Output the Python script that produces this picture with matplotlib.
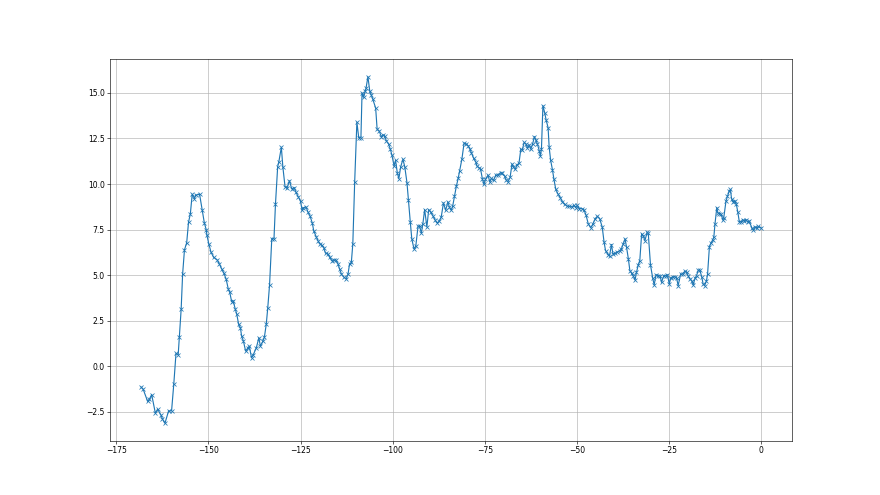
import matplotlib
matplotlib.use("Agg")
import matplotlib.pyplot as plt
import numpy as np

# values, in plot order
x = [-168.3, -167.7, -166.5, -166.0, -165.4, -164.4, -163.8, -162.9, -162.5, -161.8,
     -160.8, -160.0, -159.4, -158.8, -158.2, -157.9, -157.4, -157.0, -156.5, -155.9,
     -155.4, -154.9, -154.4, -153.8, -153.5, -152.4, -151.7, -151.1, -150.6, -150.4,
     -149.9, -149.3, -148.6, -147.6, -147.0, -146.4, -145.8, -145.2, -144.6, -144.2,
     -143.7, -143.3, -142.7, -142.3, -141.8, -141.3, -141.0, -140.5, -139.9, -139.3,
     -138.9, -138.3, -137.8, -137.0, -136.3, -135.9, -135.2, -134.8, -134.3, -133.9,
     -133.4, -132.8, -132.2, -131.8, -131.2, -130.9, -130.2, -129.8, -129.2, -128.6,
     -128.0, -127.4, -126.7, -126.3, -125.6, -125.0, -124.6, -124.2, -123.5, -123.0,
     -122.4, -121.8, -121.4, -120.7, -120.3, -119.8, -119.2, -118.7, -118.2, -117.6,
     -117.1, -116.5, -116.0, -115.4, -114.8, -114.4, -113.9, -113.2, -112.6, -112.1,
     -111.7, -111.2, -110.8, -110.3, -109.7, -109.2, -108.6, -108.3, -107.9, -107.4,
     -107.2, -106.7, -106.2, -105.8, -105.4, -104.6, -104.2, -103.6, -103.1, -102.6,
     -102.2, -101.7, -101.1, -100.6, -100.2, -99.6, -99.2, -98.7, -98.3, -97.8,
     -97.2, -96.7, -96.1, -95.7, -95.2, -94.8, -94.2, -93.7, -93.1, -92.7,
     -92.2, -91.8, -91.3, -90.7, -90.2, -89.7, -89.0, -88.4, -87.9, -87.3,
     -86.8, -86.2, -85.6, -85.0, -84.6, -84.1, -83.7, -83.2, -82.7, -82.2,
     -81.8, -81.2, -80.6, -80.0, -79.5, -79.1, -78.6, -78.0, -77.4, -77.1,
     -76.6, -76.1, -75.6, -75.2, -74.8, -74.1, -73.6, -73.2, -72.6, -72.0,
     -71.4, -70.7, -70.2, -69.6, -69.1, -68.7, -68.1, -67.6, -67.2, -66.7,
     -66.3, -65.7, -65.2, -64.8, -64.3, -63.8, -63.4, -62.9, -62.5, -62.0,
     -61.5, -61.1, -60.7, -60.2, -59.9, -59.6, -59.2, -58.7, -58.3, -57.8,
     -57.5, -57.1, -56.6, -56.2, -55.7, -55.1, -54.5, -53.9, -53.3, -52.6,
     -52.1, -51.4, -50.8, -50.3, -49.9, -49.3, -48.7, -48.1, -47.5, -46.9,
     -46.2, -45.6, -45.0, -44.4, -43.8, -43.1, -42.6, -42.2, -41.5, -41.1,
     -40.6, -40.2, -39.5, -39.0, -38.3, -37.9, -37.4, -36.9, -36.5, -36.0,
     -35.6, -35.1, -34.7, -34.2, -33.8, -33.3, -32.9, -32.4, -32.0, -31.5,
     -30.9, -30.6, -30.0, -29.4, -29.0, -28.5, -27.9, -27.4, -27.0, -26.4,
     -25.8, -25.4, -24.9, -24.5, -24.0, -23.4, -22.9, -22.5, -21.8, -21.3,
     -20.7, -20.2, -19.8, -19.3, -18.8, -18.4, -17.9, -17.5, -17.0, -16.6,
     -16.1, -15.7, -15.3, -14.8, -14.5, -14.0, -13.6, -13.1, -12.8, -12.5,
     -12.0, -11.7, -11.3, -10.8, -10.4, -10.1, -9.5, -9.1, -8.6, -8.3,
     -8.0, -7.6, -7.1, -6.7, -6.3, -5.9, -5.4, -5.0, -4.5, -4.1,
     -3.6, -3.2, -2.5, -2.1, -1.6, -1.2, -0.7, 0.0]

y = [-1.14, -1.27, -1.93, -1.80, -1.56, -2.58, -2.36, -2.67, -2.89, -3.13,
     -2.45, -2.45, -0.98, 0.70, 0.64, 1.60, 3.13, 5.06, 6.39, 6.77,
     7.90, 8.37, 9.44, 9.20, 9.39, 9.44, 8.60, 7.86, 7.50, 7.18,
     6.72, 6.26, 5.98, 5.83, 5.60, 5.34, 5.10, 4.79, 4.23, 4.05,
     3.55, 3.60, 3.13, 2.85, 2.30, 2.10, 1.66, 1.38, 0.83, 1.00,
     1.10, 0.46, 0.64, 1.01, 1.56, 1.10, 1.38, 1.60, 2.30, 3.18,
     4.47, 7.00, 7.00, 8.89, 10.95, 11.20, 12.02, 10.95, 9.85, 9.80,
     10.18, 9.74, 9.80, 9.57, 9.30, 9.05, 8.60, 8.70, 8.74, 8.47,
     8.23, 7.86, 7.42, 7.08, 6.90, 6.72, 6.63, 6.50, 6.20, 6.17,
     5.98, 5.80, 5.83, 5.83, 5.60, 5.34, 5.06, 4.88, 4.79, 5.06,
     5.60, 5.70, 6.72, 10.09, 13.40, 12.55, 12.55, 15.00, 14.76, 15.10,
     15.28, 15.89, 15.09, 14.90, 14.67, 14.17, 13.00, 12.90, 12.60, 12.70,
     12.64, 12.37, 12.20, 11.90, 11.60, 10.99, 11.30, 10.58, 10.30, 10.95,
     11.36, 10.95, 10.07, 9.10, 7.91, 7.00, 6.44, 6.60, 7.69, 7.70,
     7.30, 7.80, 8.60, 7.64, 8.60, 8.47, 8.23, 8.00, 7.86, 7.97,
     8.19, 8.96, 8.56, 9.02, 8.74, 8.56, 8.78, 9.33, 9.88, 10.31,
     10.73, 11.36, 12.24, 12.20, 12.10, 11.95, 11.70, 11.41, 11.20, 10.99,
     10.90, 10.80, 10.25, 9.98, 10.25, 10.49, 10.10, 10.31, 10.20, 10.49,
     10.49, 10.62, 10.58, 10.44, 10.20, 10.12, 10.37, 11.10, 10.95, 10.80,
     11.04, 11.14, 11.91, 11.87, 12.28, 12.20, 11.97, 12.15, 11.91, 12.20,
     12.60, 12.40, 12.20, 11.83, 11.54, 11.90, 14.30, 13.90, 13.49, 13.10,
     12.02, 11.30, 10.77, 10.25, 9.70, 9.45, 9.26, 9.02, 8.89, 8.78,
     8.78, 8.74, 8.83, 8.71, 8.83, 8.65, 8.65, 8.60, 8.30, 7.82,
     7.60, 7.82, 8.10, 8.23, 8.10, 7.64, 6.81, 6.35, 6.13, 6.07,
     6.68, 6.17, 6.20, 6.26, 6.35, 6.44, 6.72, 6.99, 6.53, 5.89,
     5.25, 5.10, 4.97, 4.73, 5.15, 5.58, 5.80, 7.27, 7.15, 6.90,
     7.36, 7.30, 5.56, 4.84, 4.46, 5.02, 4.97, 4.97, 4.60, 4.97,
     4.97, 5.02, 4.51, 4.84, 4.91, 4.91, 4.84, 4.42, 5.06, 5.06,
     5.21, 5.15, 4.97, 4.79, 4.69, 4.46, 4.84, 4.97, 5.28, 5.28,
     4.91, 4.51, 4.42, 4.69, 5.06, 6.57, 6.75, 6.94, 7.09, 7.79,
     8.71, 8.42, 8.38, 8.34, 8.05, 8.16, 9.07, 9.33, 9.62, 9.70,
     9.20, 9.02, 9.07, 8.89, 8.47, 7.94, 7.91, 8.05, 7.97, 8.05,
     7.91, 7.97, 7.60, 7.50, 7.64, 7.60, 7.67, 7.60]

fig = plt.figure(figsize=(16, 9), dpi=55)
plt.plot(x, y, '-x')
plt.grid()
plt.savefig('out.png', dpi=55)
